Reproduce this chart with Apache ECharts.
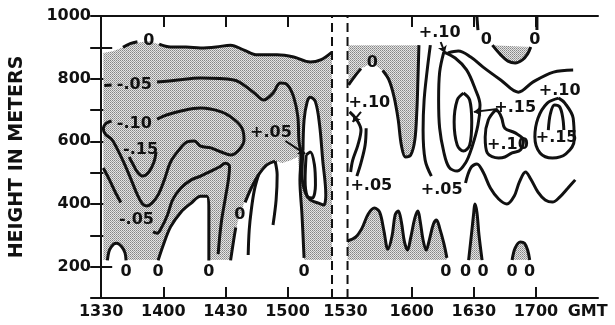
<!DOCTYPE html>
<html>
<head>
<meta charset="utf-8">
<script src="https://cdn.jsdelivr.net/npm/echarts@6/dist/echarts.min.js"></script>
<style>
html, body {margin: 0; padding: 0; background: #fff;}
#chart {width: 615px; height: 325px;}
</style>
</head>
<body>
<div id="chart"></div>
<script>
// x = minutes after 1330 GMT, y = height in meters
var xTickVals = [30, 60, 90, 150, 180, 210];
var xLabelVals = [0, 30, 60, 90, 118, 150, 180, 210, 235];
var xLabelText = ['1330', '1400', '1430', '1500', '1530', '1600', '1630', '1700', 'GMT'];
var breakTimes = [111.5, 119];

// shaded areas (negative values)
var shadeLeft = [[1,882],[6,888],[10.5,900],[17,914],[23,920],[28,910],[33.5,901],[41,901],[48,898],[55.5,901],[62.5,907],[69,891],[75.5,876],[85,876],[93,869],[101,853],[106,860],[111.5,885],[111.5,221],[1,221]];
var shadeR1 = [[119.5,907],[153.5,907],[153,796],[152.5,700],[151.5,604],[149.5,556],[147,550],[145,588],[143.5,668],[141.5,741],[139,796],[135.5,828],[131,850],[126,834],[123,812],[119.5,780]];
var waveR = [[119,282],[123,295],[126,323],[129,368],[132,387],[134.5,374],[136.5,317],[138.5,256],[140.5,298],[142,365],[143.5,378],[145,343],[146.5,279],[148,253],[149.5,292],[151.5,355],[153,378],[154,349],[155.5,285],[157,253],[158.5,285],[160.5,336],[162,349],[163.5,323],[165.5,275],[167,228]];
var shadeR2 = waveR.concat([[167,221],[119,221]]);
var cupR = [[189,907],[193,876],[196.5,856],[200,850],[203.5,860],[206,879],[207.5,901]];
var spikeR = [[177.5,221],[179,311],[180,374],[180.5,400],[181.5,374],[182.5,301],[184,221]];
var archR = [[198.5,221],[200,260],[202.5,279],[204.5,275],[206,253],[207,221]];

// white (positive) pockets inside the left shading
var hole1 = [[3,220],[4,253],[6,272],[7.5,275],[10,263],[11.5,244],[12,220]];
var hole2 = [[27.5,220],[30,269],[33.5,327],[38.5,374],[43.5,403],[48,425],[51,425],[52,381],[52,301],[52,220]];
var hole3 = [[62.5,220],[64,285],[66,343],[69,403],[72.5,451],[76,493],[80,525],[84,537],[87.5,531],[91.5,540],[95,550],[96,477],[97,365],[98,220]];
var tallLoop = [[97.5,572],[98,668],[99.5,726],[101,741],[103.5,726],[105.5,652],[107,540],[108.5,429],[107.5,397],[105,403],[101,413],[98.5,438],[97,493],[97.5,572]];

// contour lines, left part
var zeroTopA = [[10.5,900],[14,912],[17.5,918]];
var zeroTopB = [[28,910],[33.5,901],[41,901],[48,898],[55.5,901],[62.5,907],[69,891],[75.5,876],[85,876],[93,869],[101,853],[106,860],[111.5,885]];
var m05UpA = [[1.5,778],[5,780]];
var m05UpB = [[27,789],[37,796],[48,802],[64,796],[73.5,757],[78.5,732],[83,754],[86.5,786],[90,780],[93,741],[95,678],[95.5,604],[96.5,550],[96,477],[97,365],[98,228]];
var m10Loop = [[27,671],[31.5,684],[38.5,697],[48,706],[58,694],[64,671],[68,642],[69,604],[66.5,572],[62.5,556],[58,566],[53,579],[48,585],[45,601],[41.5,598],[37.5,572],[33.5,534],[30.5,477],[27.5,429],[24.5,403],[22,394],[20,400],[17.5,429],[14.5,477],[11,531],[7.5,579],[5,607],[2,623],[1,642],[2.5,658],[5,665]];
var m15Loop = [[26.5,566],[25.5,534],[23,502],[20,489],[17.5,502],[15.5,525],[13.5,550]];
var m05LowA = [[1,515],[4,477],[7,435],[9.5,405]];
var m05LowB = [[25,311],[27,307],[29,323],[32,365],[34.5,413],[38.5,451],[43.5,477],[48,489],[53,505],[57,518],[60,530],[62,520],[61.5,480],[60,420],[58,340],[56.5,240]];
var zeroMidA = [[62.5,220],[64,285],[65,325]];
var zeroMidB = [[69.5,405],[72.5,451],[76,493],[80,525],[84,537]];
var fingerB = [[76,493],[74,445],[72.5,381],[71.5,317],[71,237]];
var fingerC = [[84,537],[85,493],[84.5,413],[83,333]];
var smallLoop = [[99,556],[101,566],[103,525],[103.5,461],[102,419],[99.5,425],[98.5,477],[99,556]];

// contour lines, right part
var zeroR1a = [[119.5,780],[123,812],[125.5,832]];
var zeroR1b = [[136,826],[139,796],[141.5,741],[143.5,668],[145,588],[147,550],[149.5,556],[151.5,604],[152.5,700],[153,796],[153.5,907]];
var p10a = [[120,694],[123.5,668],[125.5,636],[124,588],[121.5,540],[120.5,502]];
var p05a = [[128,642],[127.5,588],[125.5,531],[123.5,489]];
var p05b = [[159,907],[157.5,828],[156,732],[155.5,636],[156.5,540],[159.5,489]];
var p10Loop = [[165.5,885],[171,866],[176.5,828],[180.5,770],[183,716],[182,652],[179,579],[176,531],[172,505],[168,518],[165.5,566],[163.5,642],[163,732],[163.5,821],[165.5,885]];
var p15Ell = [[175,754],[178,732],[179,662],[178,588],[175,569],[172,588],[170.5,662],[172,732],[175,754]];
var p10V = [[167.5,882],[172.5,888],[178.5,869],[184.5,837],[193,796],[201.5,757],[208.5,789],[218.5,821],[228,828]];
var p05Wave = [[176,467],[178.5,515],[181.5,528],[184.5,502],[188,451],[192,416],[196,400],[199.5,425],[202,470],[205,502],[207.5,480],[211,438],[214.5,413],[218,406],[221.5,422],[225.5,451],[229,477]];
var zeroTopRA = [[181.5,997],[182,955]];
var zeroTopRB = [[210.5,955],[210.5,997]];
var p10Blob = [[190.5,700],[187,668],[185.5,614],[186.5,563],[192,547],[195,550],[198.5,563],[202.5,572],[204,604],[200,627],[195,642],[193.5,674],[192,694],[190.5,700]];
var p10LoopR = [[221,738],[215.5,722],[211,674],[209.5,614],[212,563],[218,547],[224.5,560],[228.5,604],[228,674],[224,722],[221,738]];
var p15Arch = [[216,636],[217,688],[219,716],[221.5,710],[223,674],[223.5,636]];

var contourLabels = [
  [23,920,'0'],[16,780,'-.05'],[16,655,'-.10'],[19,572,'-.15'],[17,349,'-.05'],[82,627,'+.05'],[67,365,'0'],
  [12,183,'0'],[27.5,183,'0'],[52,183,'0'],[98,183,'0'],
  [131,850,'0'],[129.5,722,'+.10'],[130.5,458,'+.05'],[164.5,445,'+.05'],[163.5,946,'+.10'],[200,706,'+.15'],
  [221.5,760,'+.10'],[220,611,'+.15'],[196.5,588,'+.10'],[186,923,'0'],[209.5,923,'0'],
  [166.5,183,'0'],[176,183,'0'],[184.5,183,'0'],[198.5,183,'0'],[207,183,'0']
];
var arrows = [
  [[89,601],[98.5,560]],
  [[125.5,694],[121.5,662]],
  [[164,917],[166,882]],
  [[191.5,703],[180,694]]
];

// stipple tile
var tile = document.createElement('canvas');
tile.width = 2;
tile.height = 2;
var tc = tile.getContext('2d');
tc.fillStyle = '#e4e4e4';
tc.fillRect(0, 0, 2, 2);
tc.fillStyle = '#858585';
tc.fillRect(0, 0, 1, 1);
tc.fillStyle = '#a2a2a2';
tc.fillRect(1, 1, 1, 1);
var stipple = {image: tile, repeat: 'repeat'};

function area(points, fill, z) {
	return {
		type: 'custom',
		coordinateSystem: 'cartesian2d',
		data: points,
		z: z,
		silent: true,
		renderItem: function(params, api) {
			if (params.dataIndex !== 0) return;
			var pts = points.map(function(p) {
				return api.coord(p);
			});
			return {
				type: 'polygon',
				shape: {points: pts},
				style: {fill: fill, stroke: null}
			};
		}
	};
}

function contour(points) {
	return {
		type: 'line',
		data: points,
		z: 3,
		smooth: 0.35,
		symbol: 'none',
		silent: true,
		lineStyle: {color: '#111', width: 3}
	};
}

var series = [];
[shadeLeft, shadeR1, shadeR2, cupR, spikeR, archR].forEach(function(p) {
	series.push(area(p, stipple, 1));
});
[hole1, hole2, hole3, tallLoop].forEach(function(p) {
	series.push(area(p, '#fff', 2));
});
[zeroTopA, zeroTopB, m05UpA, m05UpB, m10Loop, m15Loop, m05LowA, m05LowB, hole1, hole2, zeroMidA, zeroMidB,
 fingerB, fingerC, tallLoop, smallLoop,
 zeroR1a, zeroR1b, p10a, p05a, waveR, p05b, p10Loop, p15Ell, p10V, p05Wave, zeroTopRA, cupR, zeroTopRB,
 spikeR, archR, p10Blob, p10LoopR, p15Arch].forEach(function(p) {
	series.push(contour(p));
});
breakTimes.forEach(function(t) {
	series.push({
		type: 'line',
		data: [[t, 100], [t, 1000]],
		z: 4,
		symbol: 'none',
		silent: true,
		lineStyle: {color: '#111', width: 2, type: [9, 5]}
	});
});
series.push({
	type: 'lines',
	coordinateSystem: 'cartesian2d',
	z: 4,
	silent: true,
	symbol: ['none', 'arrow'],
	symbolSize: 7,
	lineStyle: {color: '#111', width: 2, opacity: 1},
	data: arrows.map(function(a) {
		return {coords: a};
	})
});
series.push({
	type: 'custom',
	coordinateSystem: 'cartesian2d',
	data: contourLabels,
	z: 5,
	silent: true,
	renderItem: function(params, api) {
		var p = api.coord([api.value(0), api.value(1)]);
		return {
			type: 'text',
			x: p[0],
			y: p[1],
			style: {
				text: contourLabels[params.dataIndex][2],
				font: 'bold 16px "DejaVu Sans"',
				fill: '#111',
				align: 'center',
				verticalAlign: 'middle'
			}
		};
	}
});

function fmtTime(v) {
	var i = xLabelVals.indexOf(v);
	return i >= 0 ? xLabelText[i] : '';
}

var frameLine = {lineStyle: {color: '#111', width: 2}};
var frameTick = {inside: true, length: 11, lineStyle: {color: '#111', width: 2}};
var labelFont = {color: '#111', fontSize: 16, fontWeight: 'bold', fontFamily: 'DejaVu Sans'};

var chart = echarts.init(document.getElementById('chart'));
chart.setOption({
	animation: false,
	backgroundColor: '#fff',
	grid: {left: 94, right: 17, top: 16, bottom: 27},
	xAxis: [{
		type: 'value',
		min: -3,
		max: 240,
		position: 'bottom',
		axisLine: frameLine,
		axisTick: Object.assign({customValues: xTickVals}, frameTick),
		axisLabel: Object.assign({customValues: xLabelVals, formatter: fmtTime, margin: 6}, labelFont),
		splitLine: {show: false}
	}, {
		type: 'value',
		min: -3,
		max: 240,
		position: 'top',
		axisLine: frameLine,
		axisTick: Object.assign({customValues: xTickVals}, frameTick),
		axisLabel: {show: false},
		splitLine: {show: false}
	}],
	yAxis: [{
		type: 'value',
		min: 100,
		max: 1000,
		interval: 100,
		position: 'left',
		name: 'HEIGHT IN METERS',
		nameLocation: 'middle',
		nameRotate: 90,
		nameGap: 68,
		nameTextStyle: {color: '#111', fontSize: 19, fontWeight: 'bold', fontFamily: 'DejaVu Sans'},
		axisLine: frameLine,
		axisTick: frameTick,
		axisLabel: Object.assign({
			margin: 4,
			formatter: function(v) {
				return v % 200 === 0 ? String(v) : '';
			}
		}, labelFont),
		splitLine: {show: false}
	}, {
		type: 'value',
		min: 100,
		max: 1000,
		interval: 100,
		position: 'right',
		axisLine: frameLine,
		axisTick: frameTick,
		axisLabel: {show: false},
		splitLine: {show: false}
	}],
	series: series
});
</script>
</body>
</html>
